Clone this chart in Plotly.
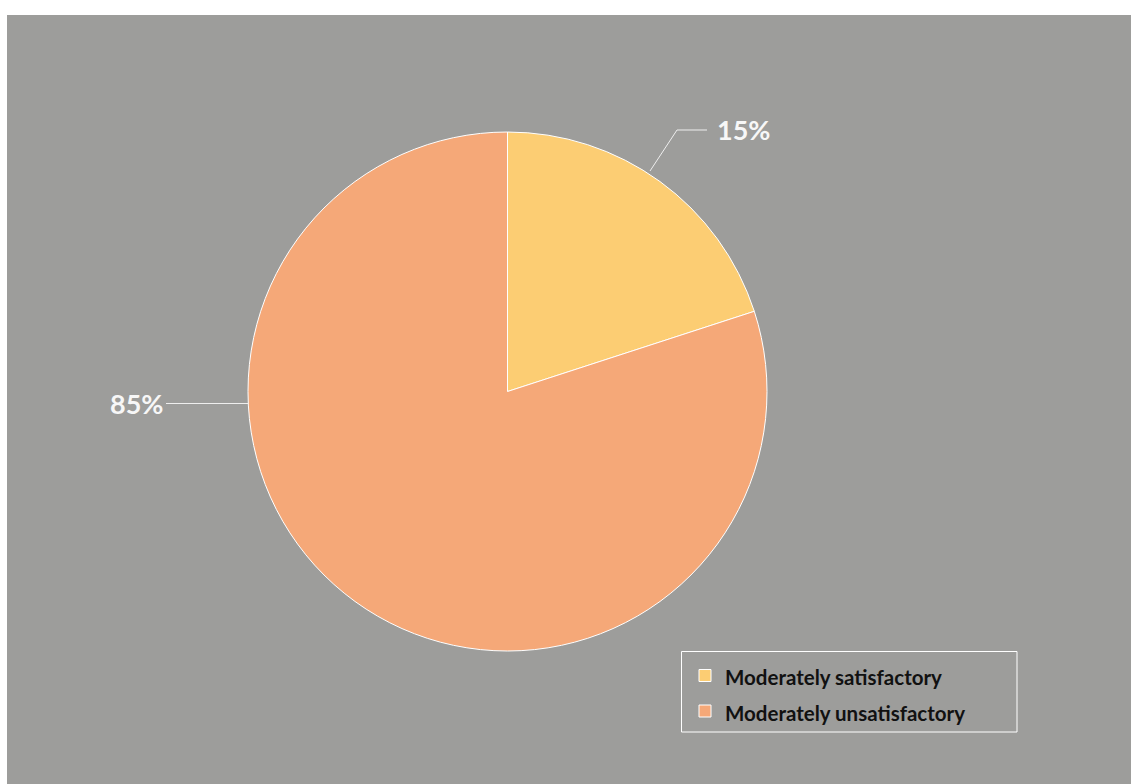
import plotly.graph_objects as go

# ---- data ----
categories = ["Moderately satisfactory", "Moderately unsatisfactory"]
slice_shares = [20, 80]          # slice sizes as drawn in the reference
label_texts = ["15%", "85%"]     # labels printed next to the slices
colors = ["#FCCD73", "#F5A878"]

# ---- geometry helpers (pixel -> paper fraction of the plot area) ----
W, H = 1131, 784
ML, MT = 7, 15
PW, PH = W - ML, H - MT


def fx(x):
    return (x - ML) / PW


def fy(y):
    return 1 - (y - MT) / PH


legend_labels = [f'<span style="font-size:20.5px">{c}</span>' for c in categories]

fig = go.Figure(
    go.Pie(
        labels=legend_labels,
        values=slice_shares,
        marker=dict(colors=colors, line=dict(color="#FFFFFF", width=1)),
        sort=False,
        direction="clockwise",
        rotation=0,
        textinfo="none",
        hovertemplate="%{label}: %{value}<extra></extra>",
        domain=dict(x=[fx(248), fx(767)], y=[fy(651), fy(132)]),
    )
)

shapes = [
    # grey panel
    dict(type="rect", xref="paper", yref="paper", x0=0, x1=1, y0=0, y1=1,
         fillcolor="#9D9D9B", line=dict(width=0), layer="below"),
    # legend frame
    dict(type="rect", xref="paper", yref="paper",
         x0=fx(681.5), x1=fx(1017), y0=fy(732), y1=fy(651.5),
         fillcolor="rgba(0,0,0,0)", line=dict(color="#FFFFFF", width=1)),
    # leader line for first label
    dict(type="path", xref="paper", yref="paper",
         path=f"M {fx(650)},{fy(171)} L {fx(677)},{fy(130)} L {fx(707)},{fy(130)}",
         line=dict(color="#EEEEEE", width=1)),
    # leader line for second label
    dict(type="path", xref="paper", yref="paper",
         path=f"M {fx(166)},{fy(403.5)} L {fx(248)},{fy(403.5)}",
         line=dict(color="#EEEEEE", width=1)),
]

annotations = [
    dict(text=f"<b>{label_texts[0]}</b>", xref="paper", yref="paper",
         x=fx(715), y=fy(129), xanchor="left", yanchor="middle", showarrow=False,
         font=dict(family="Lato", size=27, color="#F7F7F7")),
    dict(text=f"<b>{label_texts[1]}</b>", xref="paper", yref="paper",
         x=fx(165), y=fy(403), xanchor="right", yanchor="middle", showarrow=False,
         font=dict(family="Lato", size=27, color="#F7F7F7")),
]

fig.update_layout(
    width=W, height=H,
    margin=dict(l=ML, r=0, t=MT, b=0, pad=0),
    paper_bgcolor="#FFFFFF",
    plot_bgcolor="#9D9D9B",
    shapes=shapes,
    annotations=annotations,
    showlegend=True,
    legend=dict(
        x=fx(685), y=fy(652.75), xanchor="left", yanchor="top",
        bgcolor="rgba(0,0,0,0)", borderwidth=0,
        font=dict(family="Lato", size=25, color="#111111", weight="bold"),
        traceorder="normal",
    ),
)

fig.write_html(
    "out.html",
    config={"displayModeBar": False},
    post_script="document.body.style.margin='0';document.body.style.overflow='hidden';",
)
